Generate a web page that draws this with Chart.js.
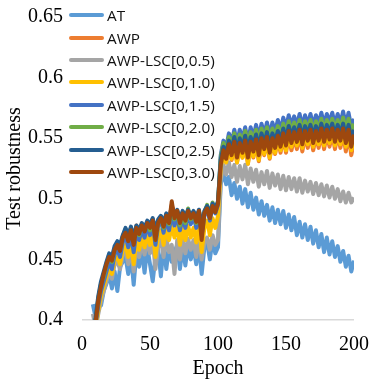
<!DOCTYPE html>
<html>
<head>
<meta charset="utf-8">
<script src="https://cdn.jsdelivr.net/npm/chart.js@4/dist/chart.umd.min.js"></script>
<style>
  html, body { margin: 0; padding: 0; background: #fff; }
  #wrap { position: relative; width: 382px; height: 382px; }
  #legend { position: absolute; left: 69px; top: 4px; font-family: "Open Sans", sans-serif; font-size: 15.3px; color: #111; }
  .row { height: 22.4px; display: flex; align-items: center; white-space: nowrap; }
  .swatch { width: 35px; height: 4px; border-radius: 2px; margin-right: 3px; }
</style>
</head>
<body>
<div id="wrap">
  <canvas id="chart1" width="382" height="382"></canvas>
  <div id="legend"></div>
</div>
<script>
// epochs (every 2nd epoch)
const epochs = [8,10,12,14,16,18,20,22,24,26, 28,30,32,34,36,38,40,42,44,46,
  48,50,52,54,56,58,60,62,64,66, 68,70,72,74,76,78,80,82,84,86,
  88,90,92,94,96,98,100,102,104,106, 108,110,112,114,116,118,120,122,124,126,
  128,130,132,134,136,138,140,142,144,146, 148,150,152,154,156,158,160,162,164,166,
  168,170,172,174,176,178,180,182,184,186, 188,190,192,194,196,198,200];

const seriesNames = ['AT', 'AWP', 'AWP-LSC[0,0.5)', 'AWP-LSC[0,1.0)', 'AWP-LSC[0,1.5)',
  'AWP-LSC[0,2.0)', 'AWP-LSC[0,2.5)', 'AWP-LSC[0,3.0)'];
const seriesColors = ['#5B9BD5', '#ED7D31', '#A5A5A5', '#FFC000', '#4472C4', '#70AD47', '#255E91', '#9E480E'];

const at = [0.413,0.402,0.416,0.412,0.424,0.430,0.438,0.426,0.440,0.424,
  0.444,0.448,0.452,0.438,0.454,0.429,0.456,0.444,0.458,0.439,
  0.460,0.446,0.432,0.452,0.458,0.436,0.462,0.442,0.460,0.448,
  0.456,0.462,0.442,0.460,0.445,0.462,0.450,0.460,0.446,0.462,
  0.438,0.460,0.464,0.450,0.466,0.455,0.460,0.512,0.522,0.512,
  0.518,0.503,0.513,0.500,0.510,0.496,0.508,0.493,0.505,0.491,
  0.501,0.487,0.498,0.486,0.495,0.482,0.493,0.480,0.491,0.479,
  0.490,0.476,0.487,0.474,0.485,0.470,0.481,0.468,0.479,0.466,
  0.477,0.463,0.474,0.460,0.471,0.456,0.468,0.454,0.465,0.452,
  0.461,0.448,0.457,0.444,0.453,0.440,0.449];
const awp = [0.386,0.399,0.417,0.429,0.437,0.445,0.453,0.450,0.459,0.463,
  0.458,0.469,0.474,0.467,0.476,0.464,0.478,0.472,0.479,0.474,
  0.481,0.477,0.483,0.470,0.481,0.485,0.478,0.487,0.481,0.495,
  0.485,0.490,0.481,0.488,0.483,0.490,0.485,0.489,0.482,0.490,
  0.470,0.488,0.492,0.485,0.494,0.490,0.496,0.526,0.537,0.530,
  0.542,0.532,0.544,0.530,0.543,0.534,0.545,0.529,0.544,0.534,
  0.546,0.531,0.547,0.536,0.548,0.533,0.547,0.537,0.549,0.538,
  0.551,0.538,0.552,0.540,0.551,0.541,0.553,0.539,0.552,0.542,
  0.553,0.540,0.552,0.542,0.554,0.541,0.553,0.543,0.554,0.541,
  0.553,0.542,0.554,0.539,0.553,0.536,0.547];
const lsc05 = [0.405,0.394,0.405,0.416,0.424,0.432,0.440,0.434,0.446,0.448,
  0.442,0.454,0.458,0.446,0.460,0.440,0.462,0.452,0.463,0.454,
  0.465,0.455,0.466,0.442,0.460,0.467,0.452,0.468,0.456,0.462,
  0.438,0.466,0.450,0.466,0.455,0.467,0.458,0.466,0.452,0.466,
  0.450,0.464,0.468,0.458,0.470,0.462,0.466,0.515,0.528,0.520,
  0.530,0.518,0.528,0.514,0.527,0.516,0.528,0.512,0.525,0.514,
  0.524,0.510,0.522,0.512,0.523,0.509,0.521,0.511,0.520,0.508,
  0.519,0.507,0.518,0.508,0.517,0.506,0.517,0.505,0.515,0.506,
  0.514,0.504,0.513,0.503,0.512,0.502,0.511,0.501,0.510,0.500,
  0.508,0.498,0.506,0.497,0.505,0.497,0.501];
const lsc10 = [0.382,0.392,0.408,0.420,0.428,0.436,0.444,0.438,0.450,0.452,
  0.446,0.458,0.462,0.452,0.464,0.446,0.466,0.458,0.468,0.460,
  0.470,0.462,0.472,0.452,0.468,0.474,0.462,0.476,0.466,0.478,
  0.468,0.478,0.462,0.476,0.466,0.478,0.468,0.476,0.464,0.478,
  0.456,0.476,0.482,0.470,0.484,0.476,0.486,0.525,0.538,0.530,
  0.543,0.533,0.545,0.530,0.544,0.534,0.546,0.529,0.545,0.535,
  0.547,0.532,0.548,0.537,0.549,0.534,0.548,0.538,0.550,0.540,
  0.552,0.540,0.554,0.543,0.553,0.544,0.555,0.542,0.554,0.545,
  0.555,0.543,0.554,0.545,0.556,0.544,0.555,0.546,0.556,0.544,
  0.555,0.545,0.556,0.543,0.555,0.540,0.551];
const lsc15 = [0.384,0.396,0.412,0.424,0.432,0.440,0.448,0.442,0.454,0.458,
  0.452,0.464,0.470,0.460,0.471,0.456,0.473,0.466,0.475,0.468,
  0.478,0.470,0.480,0.462,0.478,0.482,0.472,0.484,0.474,0.488,
  0.478,0.487,0.474,0.485,0.476,0.488,0.479,0.486,0.476,0.487,
  0.470,0.486,0.492,0.482,0.494,0.488,0.495,0.536,0.548,0.542,
  0.554,0.546,0.557,0.545,0.557,0.549,0.559,0.547,0.559,0.550,
  0.561,0.550,0.562,0.553,0.563,0.552,0.563,0.555,0.565,0.556,
  0.567,0.558,0.569,0.560,0.568,0.560,0.570,0.559,0.569,0.561,
  0.570,0.560,0.569,0.562,0.571,0.561,0.570,0.563,0.571,0.561,
  0.570,0.562,0.572,0.561,0.571,0.559,0.566];
const lsc20 = [0.386,0.400,0.418,0.430,0.436,0.446,0.454,0.448,0.459,0.463,
  0.458,0.469,0.475,0.466,0.475,0.465,0.477,0.470,0.479,0.474,
  0.481,0.474,0.483,0.466,0.481,0.485,0.476,0.487,0.479,0.492,
  0.483,0.490,0.478,0.488,0.480,0.492,0.483,0.489,0.480,0.490,
  0.474,0.489,0.495,0.486,0.497,0.491,0.497,0.534,0.546,0.539,
  0.551,0.543,0.554,0.542,0.553,0.546,0.556,0.544,0.555,0.547,
  0.557,0.546,0.558,0.549,0.559,0.548,0.558,0.551,0.560,0.552,
  0.562,0.553,0.564,0.555,0.563,0.555,0.565,0.554,0.564,0.557,
  0.565,0.555,0.564,0.557,0.566,0.556,0.565,0.558,0.566,0.556,
  0.565,0.557,0.567,0.556,0.566,0.554,0.562];
const lsc25 = [0.388,0.402,0.420,0.432,0.440,0.448,0.455,0.452,0.461,0.465,
  0.462,0.470,0.476,0.470,0.477,0.468,0.478,0.474,0.480,0.476,
  0.482,0.479,0.484,0.474,0.483,0.486,0.480,0.488,0.482,0.494,
  0.486,0.491,0.483,0.490,0.485,0.491,0.486,0.490,0.484,0.491,
  0.476,0.490,0.494,0.487,0.496,0.492,0.498,0.532,0.543,0.537,
  0.548,0.540,0.551,0.539,0.550,0.542,0.552,0.540,0.551,0.544,
  0.553,0.542,0.554,0.545,0.555,0.544,0.554,0.547,0.556,0.548,
  0.558,0.549,0.560,0.551,0.559,0.551,0.561,0.550,0.560,0.553,
  0.561,0.551,0.560,0.553,0.562,0.552,0.561,0.554,0.562,0.552,
  0.561,0.553,0.562,0.551,0.561,0.549,0.557];
const lsc30 = [0.385,0.398,0.416,0.428,0.438,0.446,0.452,0.449,0.458,0.462,
  0.457,0.468,0.472,0.465,0.474,0.462,0.476,0.471,0.478,0.473,
  0.480,0.476,0.482,0.466,0.480,0.484,0.477,0.486,0.480,0.498,
  0.484,0.490,0.480,0.488,0.482,0.490,0.484,0.488,0.481,0.490,
  0.466,0.488,0.492,0.484,0.494,0.489,0.496,0.528,0.540,0.533,
  0.545,0.536,0.547,0.534,0.546,0.538,0.548,0.534,0.547,0.539,
  0.549,0.536,0.550,0.541,0.551,0.538,0.550,0.542,0.552,0.543,
  0.554,0.544,0.556,0.546,0.555,0.547,0.557,0.545,0.556,0.548,
  0.557,0.546,0.556,0.548,0.558,0.547,0.557,0.549,0.558,0.547,
  0.557,0.548,0.558,0.546,0.557,0.543,0.553];

const seriesValues = [at, awp, lsc05, lsc10, lsc15, lsc20, lsc25, lsc30];
const xTicks = [0, 50, 100, 150, 200];
const yTicks = [0.4, 0.45, 0.5, 0.55, 0.6, 0.65];

const serif = 'Liberation Serif, Times New Roman, serif';

const datasets = seriesValues.map((vals, i) => ({
  label: seriesNames[i],
  data: vals.map((v, j) => ({ x: epochs[j], y: v })),
  borderColor: seriesColors[i],
  backgroundColor: seriesColors[i],
  borderWidth: 4,
  pointRadius: 0,
  tension: 0,
  borderJoinStyle: 'round',
  order: seriesValues.length - 1 - i   // last series drawn on top
}));

const ctx = document.getElementById('chart1').getContext('2d');
new Chart(ctx, {
  type: 'line',
  data: { datasets: datasets },
  options: {
    responsive: false,
    animation: false,
    layout: { padding: { top: 17, right: 26, left: 0, bottom: 0 } },
    plugins: { legend: { display: false }, tooltip: { enabled: false } },
    scales: {
      x: {
        type: 'linear', min: 0, max: 200,
        afterBuildTicks: s => { s.ticks = xTicks.map(v => ({ value: v })); },
        afterFit: s => { s.height = 62; },
        grid: { display: false, drawTicks: false },
        border: { display: false },
        ticks: { font: { family: serif, size: 20 }, color: '#000', padding: 13, maxRotation: 0 },
        title: { display: true, text: 'Epoch', font: { family: serif, size: 20 }, color: '#000', padding: { top: 0, bottom: 1 } }
      },
      y: {
        min: 0.4, max: 0.65,
        afterBuildTicks: s => { s.ticks = yTicks.map(v => ({ value: v })); },
        afterFit: s => { s.width = 82; s.paddingTop = 0; s.paddingBottom = 0; },
        grid: {
          drawTicks: false,
          lineWidth: 1.5,
          color: c => (c.tick && c.tick.value === 0.4) ? '#d9d9d9' : 'rgba(0,0,0,0)'
        },
        border: { display: false },
        ticks: { font: { family: serif, size: 20 }, color: '#000', padding: 19, callback: v => String(v) },
        title: { display: true, text: 'Test robustness', font: { family: serif, size: 20 }, color: '#000', padding: { top: 3, bottom: 0 } }
      }
    }
  }
});

// legend overlaid on the plot, like the original
const legend = document.getElementById('legend');
seriesNames.forEach((name, i) => {
  const row = document.createElement('div');
  row.className = 'row';
  row.innerHTML = '<span class="swatch" style="background:' + seriesColors[i] + '"></span><span>' + name + '</span>';
  legend.appendChild(row);
});
</script>
</body>
</html>
